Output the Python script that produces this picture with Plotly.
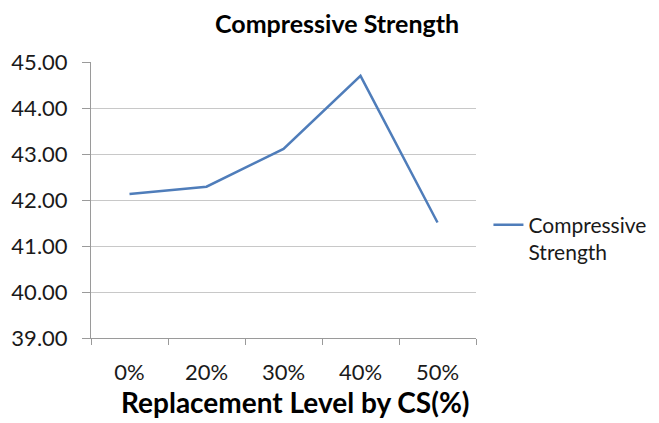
import plotly.graph_objects as go

categories = ["0%", "20%", "30%", "40%", "50%"]
strength = [42.13, 42.29, 43.11, 44.70, 41.51]
y_ticks = [39, 40, 41, 42, 43, 44, 45]
y_labels = ["39.00", "40.00", "41.00", "42.00", "43.00", "44.00", "45.00"]

FONT = "Lato, 'Open Sans', sans-serif"

fig = go.Figure()
fig.add_trace(go.Scatter(
    x=categories, y=strength, mode="lines",
    name="Compressive<br>Strength",
    line=dict(color="#4F7DBA", width=2.5),
))

fig.add_annotation(
    text="<b>Compressive Strength</b>", xref="paper", yref="paper",
    x=0.639, y=1.14, xanchor="center", yanchor="middle", showarrow=False,
    font=dict(size=25, family=FONT, color="#000"),
)
fig.add_annotation(
    text="<b>Replacement Level by CS(%)</b>", xref="paper", yref="paper",
    x=0.53, y=-0.232, xanchor="center", yanchor="middle", showarrow=False,
    font=dict(size=28, family=FONT, color="#000"),
)

fig.update_layout(
    width=651, height=415,
    margin=dict(l=83, r=183, t=54, b=85),
    paper_bgcolor="white", plot_bgcolor="white",
    font=dict(family=FONT, color="#1a1a1a"),
    showlegend=True,
    legend=dict(xref="container", x=0.738, xanchor="left",
                y=0.36, yanchor="middle", valign="top",
                font=dict(size=21, family=FONT, color="#1a1a1a"),
                bgcolor="rgba(0,0,0,0)", itemwidth=30, tracegroupgap=0,
                borderwidth=0),
    xaxis=dict(
        type="category", range=[-0.5, 4.5], tickson="boundaries",
        ticks="outside", ticklen=6, automargin=False,
        tickcolor="#9a9a9a", showline=True, linecolor="#9a9a9a", linewidth=1,
        showgrid=False, zeroline=False,
        tickfont=dict(size=22, family=FONT, color="#1a1a1a"),
        ticklabelstandoff=15,
    ),
    yaxis=dict(
        range=[39, 45], tickvals=y_ticks, ticktext=y_labels,
        ticks="outside", ticklen=8, tickcolor="#9a9a9a", automargin=False,
        showline=True, linecolor="#9a9a9a", linewidth=1,
        showgrid=True, gridcolor="#c8c8c8", gridwidth=1, zeroline=False,
        tickfont=dict(size=22, family=FONT, color="#1a1a1a"),
        ticklabelstandoff=10,
    ),
)

fig.write_html("out.html")
